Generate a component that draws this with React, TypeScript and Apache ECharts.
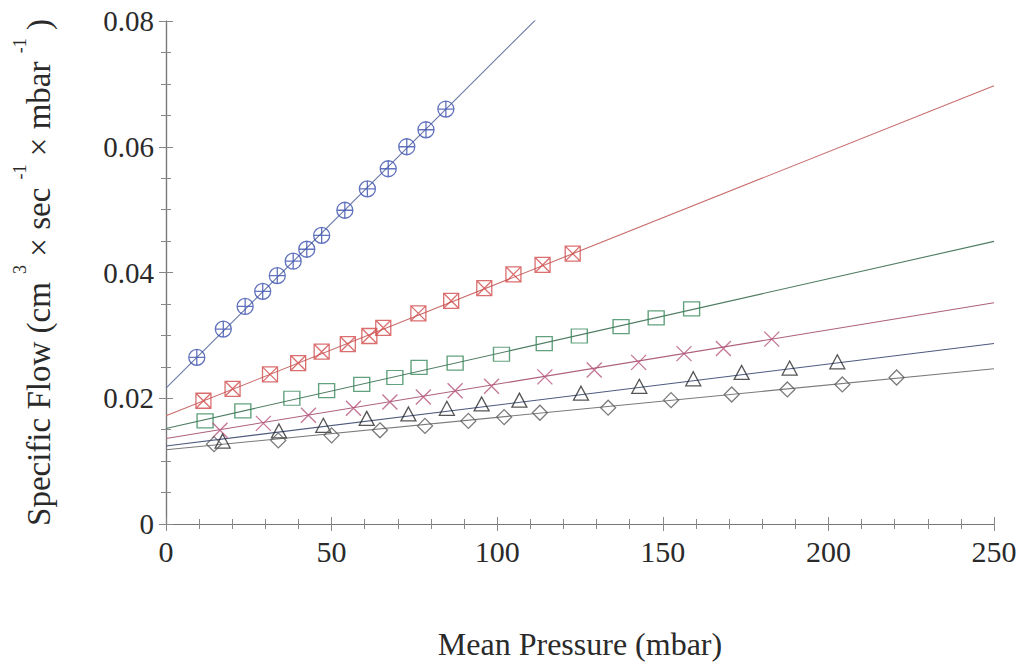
import React, { useEffect, useRef } from "react";
import * as echarts from "echarts";

// ---- data ----
const s1Pressure = [9.3, 17.3, 23.9, 29.2, 33.6, 38.4, 42.5, 47.0, 54.0, 60.8, 67.1, 72.7, 78.5, 84.5];
const s1Flow = [0.0265, 0.0310, 0.0346, 0.0370, 0.0395, 0.0418, 0.0437, 0.0459, 0.0499, 0.0533, 0.0565, 0.0600, 0.0627, 0.0660];

const s2Pressure = [11.3, 20.1, 31.4, 39.9, 47.0, 54.9, 61.4, 65.6, 76.2, 86.1, 96.1, 104.9, 113.7, 122.8];
const s2Flow = [0.0196, 0.0215, 0.0238, 0.0256, 0.0274, 0.0286, 0.0299, 0.0312, 0.0335, 0.0355, 0.0375, 0.0397, 0.0412, 0.0430];

const s3Pressure = [11.8, 23.2, 38.0, 48.5, 59.1, 69.1, 76.4, 87.3, 101.3, 114.2, 124.8, 137.4, 148.0, 158.7];
const s3Flow = [0.0164, 0.0180, 0.0200, 0.0212, 0.0222, 0.0233, 0.0249, 0.0256, 0.0270, 0.0287, 0.0299, 0.0314, 0.0328, 0.0342];

const s4Pressure = [16.3, 29.4, 43.0, 56.6, 67.6, 77.7, 87.3, 98.3, 114.4, 129.3, 142.7, 156.4, 168.3, 182.9];
const s4Flow = [0.0149, 0.0160, 0.0173, 0.0184, 0.0194, 0.0202, 0.0212, 0.0219, 0.0234, 0.0245, 0.0257, 0.0271, 0.0279, 0.0294];

const s5Pressure = [17.1, 34.1, 47.5, 60.6, 73.2, 84.8, 95.3, 106.7, 125.3, 142.9, 159.2, 173.8, 188.3, 202.7];
const s5Flow = [0.0132, 0.0148, 0.0157, 0.0168, 0.0175, 0.0184, 0.0191, 0.0197, 0.0208, 0.0219, 0.0231, 0.0241, 0.0248, 0.0258];

const s6Pressure = [14.5, 33.9, 50.0, 64.6, 78.2, 91.3, 102.1, 112.9, 133.5, 152.5, 170.8, 187.6, 204.2, 220.6];
const s6Flow = [0.0127, 0.0133, 0.0141, 0.0149, 0.0156, 0.0164, 0.0170, 0.0177, 0.0185, 0.0197, 0.0206, 0.0214, 0.0222, 0.0233];

// linear fits drawn across the whole axis
const fitIntercept = [0.0216, 0.0172, 0.0152, 0.0136, 0.0124, 0.0118];
const fitSlope = [0.000525, 0.00021, 0.000119, 0.0000864, 0.0000652, 0.0000516];

const xTicks = [0, 50, 100, 150, 200, 250];
const yTicks = [0, 0.02, 0.04, 0.06, 0.08];

const pressures = [s1Pressure, s2Pressure, s3Pressure, s4Pressure, s5Pressure, s6Pressure];
const flows = [s1Flow, s2Flow, s3Flow, s4Flow, s5Flow, s6Flow];

const markerColors = ["#3a4fae", "#d24a4a", "#3a8a5c", "#b4547a", "#2a2a2a", "#5a5a5a"];
const lineColors = ["#6a78a8", "#c86c6c", "#4d7c62", "#ad607c", "#4d5a7e", "#7a7a7a"];
const symbols = [
  "path://M0,10 A10,10 0 1,1 20,10 A10,10 0 1,1 0,10 Z M10,0 L10,20 M0,10 L20,10",
  "path://M0,0 L20,0 L20,20 L0,20 Z M0,0 L20,20 M20,0 L0,20",
  "path://M0,0 L20,0 L20,18 L0,18 Z",
  "path://M0,0 L20,20 M20,0 L0,20",
  "path://M10,0 L20,18 L0,18 Z",
  "path://M10,0 L20,10 L10,20 L0,10 Z",
];
const symbolSizes: any[] = [16, 15, [16, 14], 15, [15, 14], 15];

const FONT = "Liberation Serif, Times New Roman, serif";

export default function App() {
  const ref = useRef<HTMLDivElement>(null);

  useEffect(() => {
    if (!ref.current) return;
    const chart = echarts.init(ref.current, undefined, { renderer: "svg" });
    const xMin = xTicks[0];
    const xMax = xTicks[xTicks.length - 1];
    const yMin = yTicks[0];
    const yMax = yTicks[yTicks.length - 1];

    const series: any[] = [];
    for (let i = 0; i < pressures.length; i++) {
      series.push({
        type: "line",
        data: [
          [xMin, fitIntercept[i] + fitSlope[i] * xMin],
          [xMax, fitIntercept[i] + fitSlope[i] * xMax],
        ],
        showSymbol: false,
        symbol: "none",
        clip: true,
        lineStyle: { color: lineColors[i], width: 1.1 },
        silent: true,
        z: 2,
      });
    }
    for (let i = 0; i < pressures.length; i++) {
      series.push({
        type: "scatter",
        data: pressures[i].map((p, k) => [p, flows[i][k]]),
        symbol: symbols[i],
        symbolSize: symbolSizes[i],
        itemStyle: { color: "transparent", borderColor: markerColors[i], borderWidth: 1.3 },
        z: 3,
      });
    }

    const axisLine = { show: true, lineStyle: { color: "#777", width: 1.2 } };
    const tickStyle = { color: "#888", width: 1 };

    chart.setOption({
      animation: false,
      backgroundColor: "#ffffff",
      grid: { left: 166, right: 34, top: 21, bottom: 140, containLabel: false },
      xAxis: [
        {
          type: "value",
          min: xMin,
          max: xMax,
          interval: 50,
          position: "bottom",
          axisLine,
          axisTick: { show: true, inside: true, length: 7, lineStyle: tickStyle },
          minorTick: { show: true, splitNumber: 5, length: 5, lineStyle: tickStyle },
          splitLine: { show: false },
          axisLabel: { fontFamily: FONT, fontSize: 30, color: "#2a2a2a", margin: 12 },
          name: "Mean Pressure (mbar)",
          nameLocation: "middle",
          nameGap: 104,
          nameTextStyle: { fontFamily: FONT, fontSize: 32, color: "#2a2a2a" },
        },
        {
          type: "value",
          min: xMin,
          max: xMax,
          interval: 50,
          position: "top",
          axisLine,
          axisTick: { show: true, inside: true, length: 7, lineStyle: tickStyle },
          minorTick: { show: true, splitNumber: 5, length: 5, lineStyle: tickStyle },
          splitLine: { show: false },
          axisLabel: { show: false },
        },
      ],
      yAxis: [
        {
          type: "value",
          min: yMin,
          max: yMax,
          interval: 0.02,
          position: "left",
          axisLine,
          axisTick: { show: true, inside: true, length: 7, lineStyle: tickStyle },
          minorTick: { show: true, splitNumber: 4, length: 5, lineStyle: tickStyle },
          splitLine: { show: false },
          axisLabel: {
            fontFamily: FONT,
            fontSize: 29,
            color: "#2a2a2a",
            margin: 12,
            formatter: (v: number) => (v === 0 ? "0" : v.toFixed(2)),
          },
          name: "{t|Specific Flow (cm }{s|3}{t| × sec }{s|-1}{t| × mbar }{s|-1}{t| )}",
          nameLocation: "middle",
          nameGap: 111,
          nameRotate: 90,
          nameTextStyle: {
            rich: {
              t: { fontFamily: FONT, fontSize: 33, color: "#2a2a2a", lineHeight: 44, verticalAlign: "bottom" },
              s: { fontFamily: FONT, fontSize: 18, color: "#2a2a2a", lineHeight: 12, verticalAlign: "top" },
            },
          },
        },
        {
          type: "value",
          min: yMin,
          max: yMax,
          interval: 0.02,
          position: "right",
          axisLine,
          axisTick: { show: true, inside: true, length: 7, lineStyle: tickStyle },
          minorTick: { show: true, splitNumber: 4, length: 5, lineStyle: tickStyle },
          splitLine: { show: false },
          axisLabel: { show: false },
        },
      ],
      series,
    });

    return () => chart.dispose();
  }, []);

  return (
    <div
      ref={ref}
      style={{ position: "absolute", left: 0, top: 0, width: 1028, height: 665, background: "#fff" }}
    />
  );
}
